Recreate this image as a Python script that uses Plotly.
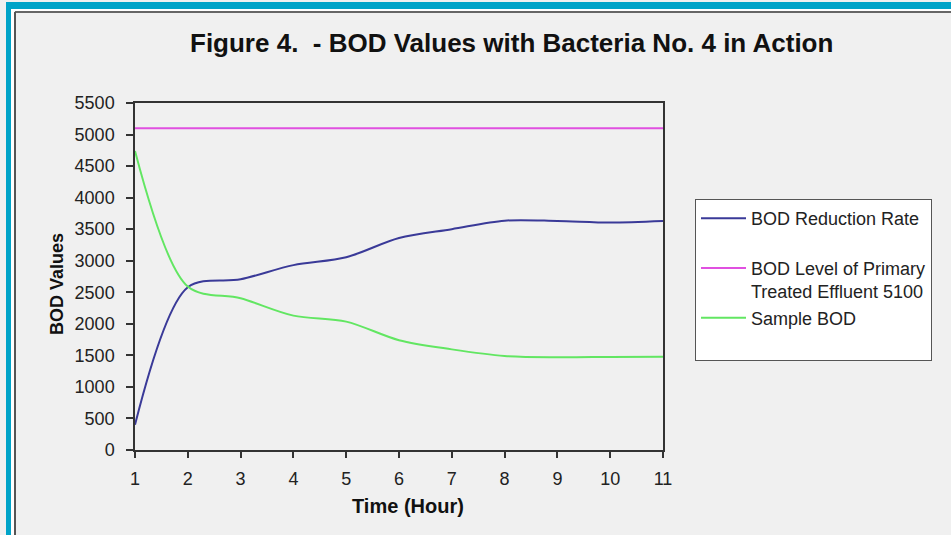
import plotly.graph_objects as go

# ---- data ----
time_hours = [1, 2, 3, 4, 5, 6, 7, 8, 9, 10, 11]
bod_reduction_rate = [400, 2580, 2705, 2930, 3055, 3360, 3500, 3635, 3630, 3605, 3630]
primary_effluent_level = [5100] * 11
sample_bod = [4740, 2590, 2405, 2130, 2035, 1740, 1595, 1490, 1470, 1475, 1478]

y_ticks = list(range(0, 5501, 500))
x_ticks = list(range(1, 12))

series_names = [
    "BOD Reduction Rate<br> ",
    "BOD Level of Primary<br>Treated Effluent 5100",
    "Sample BOD<br> ",
]
series_colors = ["#3a3a98", "#e050e0", "#62e662"]

# ---- geometry helpers (pixel -> paper) ----
W, H = 951, 535
L, R, T, B = 135, 663, 103, 450


def px(x):
    return (x - L) / (R - L)


def py(y):
    return (B - y) / (B - T)


fig = go.Figure()
for i, (name, vals) in enumerate(zip(series_names,
                                     [bod_reduction_rate, primary_effluent_level, sample_bod])):
    fig.add_trace(go.Scatter(
        x=time_hours, y=vals, name=name, mode="lines",
        line=dict(color=series_colors[i], width=2, shape="spline", smoothing=0.9),
        legendgroup=f"g{i}",
    ))

font_family = "Liberation Sans, Arial, sans-serif"
tick_font = dict(family=font_family, size=18, color="#222222")

fig.update_layout(
    width=W, height=H,
    margin=dict(l=L, r=W - R, t=T, b=H - B, pad=0, autoexpand=False),
    paper_bgcolor="#f0f0f0",
    plot_bgcolor="#f0f0f0",
    showlegend=True,
    legend=dict(
        x=px(695), y=py(199), xanchor="left", yanchor="top",
        bgcolor="#ffffff", bordercolor="#555555", borderwidth=1,
        font=dict(family=font_family, size=18, color="#222222"),
        tracegroupgap=0, traceorder="grouped", valign="top",
        itemwidth=45, entrywidth=190, entrywidthmode="pixels",
    ),
    xaxis=dict(
        range=[1, 11], tickvals=x_ticks, ticktext=[str(v) for v in x_ticks],
        showgrid=False, zeroline=False,
        showline=True, linecolor="#333333", linewidth=1.5, mirror=True,
        ticks="outside", ticklen=6, tickwidth=1.5, tickcolor="#333333",
        tickfont=tick_font, ticklabelstandoff=6, fixedrange=True,
    ),
    yaxis=dict(
        range=[0, 5500], tickvals=y_ticks, ticktext=[str(v) for v in y_ticks],
        showgrid=False, zeroline=False,
        showline=True, linecolor="#333333", linewidth=1.5, mirror=True,
        ticks="outside", ticklen=7, tickwidth=1.5, tickcolor="#333333",
        tickfont=tick_font, ticklabelstandoff=8, fixedrange=True,
    ),
    xaxis2=dict(
        overlaying="x", range=[1, 11], tickvals=x_ticks, showticklabels=False,
        showgrid=False, zeroline=False, showline=False,
        ticks="inside", ticklen=6, tickwidth=1.5, tickcolor="#333333",
        side="bottom", anchor="y",
    ),
    yaxis2=dict(
        overlaying="y", range=[0, 5500], tickvals=y_ticks, showticklabels=False,
        showgrid=False, zeroline=False, showline=False,
        ticks="inside", ticklen=7, tickwidth=1.5, tickcolor="#333333",
        side="left", anchor="x",
    ),
)

# title and axis titles
fig.add_annotation(
    text="<b>Figure 4.  - BOD Values with Bacteria No. 4 in Action</b>",
    xref="paper", yref="paper", x=px(511), y=py(43),
    xanchor="center", yanchor="middle", showarrow=False,
    font=dict(family=font_family, size=26, color="#111111"),
)
fig.add_annotation(
    text="<b>BOD Values</b>", textangle=-90,
    xref="paper", yref="paper", x=px(57), y=py(284),
    xanchor="center", yanchor="middle", showarrow=False,
    font=dict(family=font_family, size=18, color="#111111"),
)
fig.add_annotation(
    text="<b>Time (Hour)</b>",
    xref="paper", yref="paper", x=px(408), y=py(506),
    xanchor="center", yanchor="middle", showarrow=False,
    font=dict(family=font_family, size=20, color="#111111"),
)

# outer frame decoration
teal = "#00a3c8"
fig.add_shape(type="rect", xref="paper", yref="paper",
              x0=px(6), x1=px(951), y0=py(2), y1=py(9),
              fillcolor=teal, line_width=0, layer="below")
fig.add_shape(type="rect", xref="paper", yref="paper",
              x0=px(6), x1=px(11), y0=py(2), y1=py(535),
              fillcolor=teal, line_width=0, layer="below")
fig.add_shape(type="rect", xref="paper", yref="paper",
              x0=px(11), x1=px(951), y0=py(9), y1=py(11),
              fillcolor="#ffffff", line_width=0, layer="below")
fig.add_shape(type="rect", xref="paper", yref="paper",
              x0=px(11), x1=px(14), y0=py(9), y1=py(535),
              fillcolor="#ffffff", line_width=0, layer="below")
fig.add_shape(type="line", xref="paper", yref="paper",
              x0=px(15), x1=px(951), y0=py(12), y1=py(12),
              line=dict(color="#666666", width=2), layer="below")
fig.add_shape(type="line", xref="paper", yref="paper",
              x0=px(15), x1=px(15), y0=py(12), y1=py(535),
              line=dict(color="#555555", width=2), layer="below")

fig.write_html("out.html")
